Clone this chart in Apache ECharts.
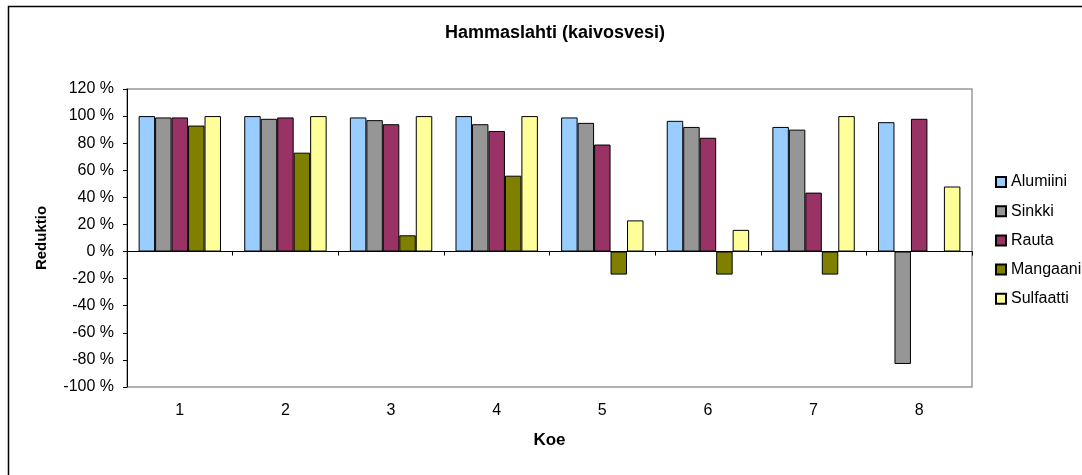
<!DOCTYPE html>
<html>
<head>
<meta charset="utf-8">
<script src="https://cdn.jsdelivr.net/npm/echarts@6/dist/echarts.min.js"></script>
<style>
html,body{margin:0;padding:0;background:#fff;}
#chart{width:1082px;height:475px;}
</style>
</head>
<body>
<div id="chart"></div>
<script>
const categories = ['1','2','3','4','5','6','7','8'];
const alumiini  = [100, 100, 99, 100, 99, 96.5, 92, 95.5];
const sinkki    = [99, 98, 97, 94, 95, 92, 90, -83];
const rauta     = [99, 99, 94, 89, 79, 84, 43.5, 98];
const mangaani  = [93, 73, 12, 56, -17, -17, -17, null];
const sulfaatti = [100, 100, 100, 100, 23, 16, 100, 48];
const seriesNames = ['Alumiini','Sinkki','Rauta','Mangaani','Sulfaatti'];
const seriesColors = ['#99CCFF','#969696','#993366','#808000','#FFFF99'];
const seriesData = [alumiini, sinkki, rauta, mangaani, sulfaatti];

const font = 'Liberation Sans, Arial, sans-serif';
const chart = echarts.init(document.getElementById('chart'));
chart.setOption({
  animation: false,
  backgroundColor: '#fff',
  graphic: [{
    type: 'rect', shape: {x: 8.5, y: 6.5, width: 1090, height: 480},
    style: {fill: 'none', stroke: '#000', lineWidth: 1.5}, z: 0
  }],
  title: {
    text: 'Hammaslahti (kaivosvesi)', left: 550, top: 19, textAlign: 'center',
    textStyle: {fontFamily: font, fontSize: 18, fontWeight: 'bold', color: '#000'}
  },
  legend: {
    orient: 'vertical', left: 990, top: 169, itemWidth: 10, itemHeight: 10, itemGap: 13.2,
    icon: 'rect', data: seriesNames,
    textStyle: {fontFamily: font, fontSize: 16, lineHeight: 16, color: '#000', padding: [0,0,0,0]}
  },
  grid: {left: 127, right: 110, top: 89, bottom: 88, show: true, borderColor: '#999', borderWidth: 1.5, containLabel: false},
  xAxis: [{
    type: 'category', data: categories, position: 'bottom',
    name: 'Koe', nameLocation: 'middle', nameGap: 45,
    nameTextStyle: {fontFamily: font, fontSize: 17, fontWeight: 'bold', color: '#000'},
    axisLine: {onZero: false, show: false}, axisTick: {show: false},
    axisLabel: {fontFamily: font, fontSize: 16, color: '#000', margin: 16}
  }, {
    type: 'category', data: categories, position: 'bottom',
    axisLine: {onZero: true, show: true, lineStyle: {color: '#000', width: 1}},
    axisTick: {show: true, inside: false, length: 4, lineStyle: {color: '#000'}},
    axisLabel: {show: false}
  }],
  yAxis: {
    type: 'value', min: -100, max: 120, interval: 20,
    name: 'Reduktio', nameLocation: 'middle', nameGap: 78, nameRotate: 90,
    nameTextStyle: {fontFamily: font, fontSize: 15, fontWeight: 'bold', color: '#000'},
    axisLine: {show: true, lineStyle: {color: '#000', width: 1}},
    axisTick: {show: true, length: 4, lineStyle: {color: '#000'}},
    splitLine: {show: false},
    axisLabel: {fontFamily: font, fontSize: 16, color: '#000', margin: 13, formatter: v => v + ' %'}
  },
  series: seriesNames.map((n, i) => ({
    name: n, type: 'bar', xAxisIndex: 0, data: seriesData[i],
    barGap: '0%', barCategoryGap: '22%',
    itemStyle: {color: seriesColors[i], borderColor: '#000', borderWidth: 1}
  }))
});
</script>
</body>
</html>
